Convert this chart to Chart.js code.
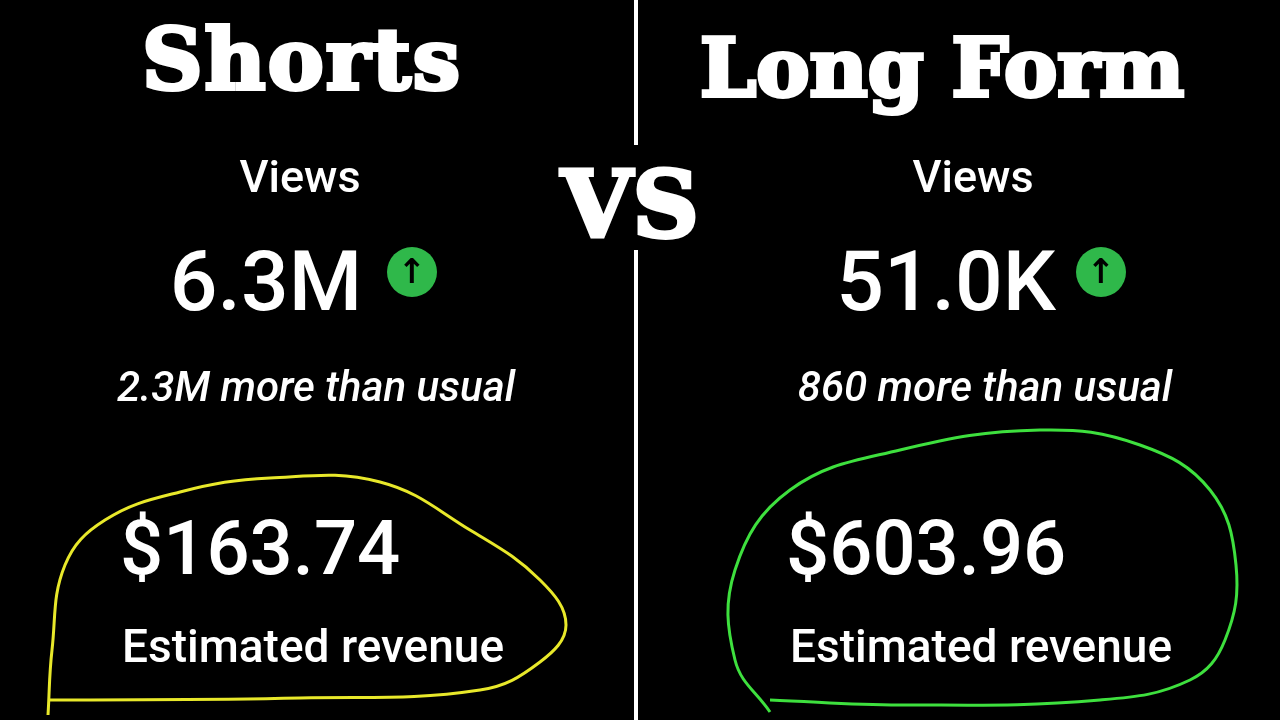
<!DOCTYPE html>
<html><head><meta charset="utf-8">
<script src="https://cdn.jsdelivr.net/npm/chart.js@4"></script>
<style>
html,body{margin:0;padding:0;background:#000;width:1280px;height:720px;overflow:hidden}
#wrap{position:absolute;left:0;top:0;width:1280px;height:720px}
.t{position:absolute;color:#fff;white-space:nowrap;font-family:Roboto,sans-serif;font-weight:500}
.c{transform:translateX(-50%)}
.slab{font-family:"DejaVu Serif",serif;font-weight:900;-webkit-text-stroke:4px #fff}
.arrow{position:absolute;width:50px;height:50px;border-radius:50%;background:#2fb84a;color:#000;font:bold 34px "DejaVu Sans";text-align:center;line-height:48px}
</style></head><body>
<div id="wrap"><canvas id="c" width="1280" height="720"></canvas></div>
<div class="t c slab" style="left:302px;top:12px;font-size:84px;line-height:96px;letter-spacing:2px">Shorts</div>
<div class="t c slab" style="left:942px;top:20px;font-size:80px;line-height:96px">Long Form</div>
<div class="t c slab" style="left:630px;top:150px;font-size:92px;line-height:110px">VS</div>
<div class="t c" style="left:300px;top:150px;font-size:45px">Views</div>
<div class="t c" style="left:973px;top:150px;font-size:45px">Views</div>
<div class="t c" style="left:266px;top:232px;font-size:84px">6.3M</div>
<div class="arrow" style="left:387px;top:247px">↑</div>
<div class="t c" style="left:946px;top:232px;font-size:84px">51.0K</div>
<div class="arrow" style="left:1076px;top:247px">↑</div>
<div class="t c" style="left:316px;top:362px;font-size:42px;font-style:italic">2.3M more than usual</div>
<div class="t c" style="left:985px;top:362px;font-size:42px;font-style:italic">860 more than usual</div>
<div class="t" style="left:120px;top:503px;font-size:76px">$163.74</div>
<div class="t" style="left:122px;top:619px;font-size:46px">Estimated revenue</div>
<div class="t" style="left:786px;top:503px;font-size:76px">$603.96</div>
<div class="t" style="left:790px;top:619px;font-size:46px">Estimated revenue</div>
<script>
const dividerTop=[{x:636,y:0},{x:636,y:145}];
const dividerBottom=[{x:636,y:250},{x:636,y:720}];
const yellowLoop=[{x:48,y:715},{x:52,y:650},{x:65,y:565},{x:105,y:520},{x:180,y:492},{x:270,y:478},{x:380,y:482},{x:470,y:530},{x:540,y:580},{x:566,y:625},{x:540,y:662},{x:480,y:690},{x:300,y:698},{x:50,y:700}];
const greenLoop=[{x:770,y:712},{x:735,y:660},{x:735,y:570},{x:790,y:490},{x:900,y:450},{x:1040,y:430},{x:1140,y:445},{x:1210,y:490},{x:1236,y:565},{x:1225,y:640},{x:1190,y:680},{x:1100,y:700},{x:900,y:705},{x:770,y:700}];
new Chart(document.getElementById('c'),{type:'line',
data:{datasets:[
{data:dividerTop,borderColor:'#fff',borderWidth:4,pointRadius:0},
{data:dividerBottom,borderColor:'#fff',borderWidth:4,pointRadius:0},
{data:yellowLoop,borderColor:'#e8e82a',borderWidth:3,pointRadius:0,tension:0.4},
{data:greenLoop,borderColor:'#3ee03e',borderWidth:3,pointRadius:0,tension:0.4}]},
options:{responsive:false,animation:false,layout:{padding:0},
plugins:{legend:{display:false},tooltip:{enabled:false}},
scales:{x:{type:'linear',min:0,max:1280,display:false},y:{type:'linear',min:0,max:720,reverse:true,display:false}}}});
</script></body></html>
